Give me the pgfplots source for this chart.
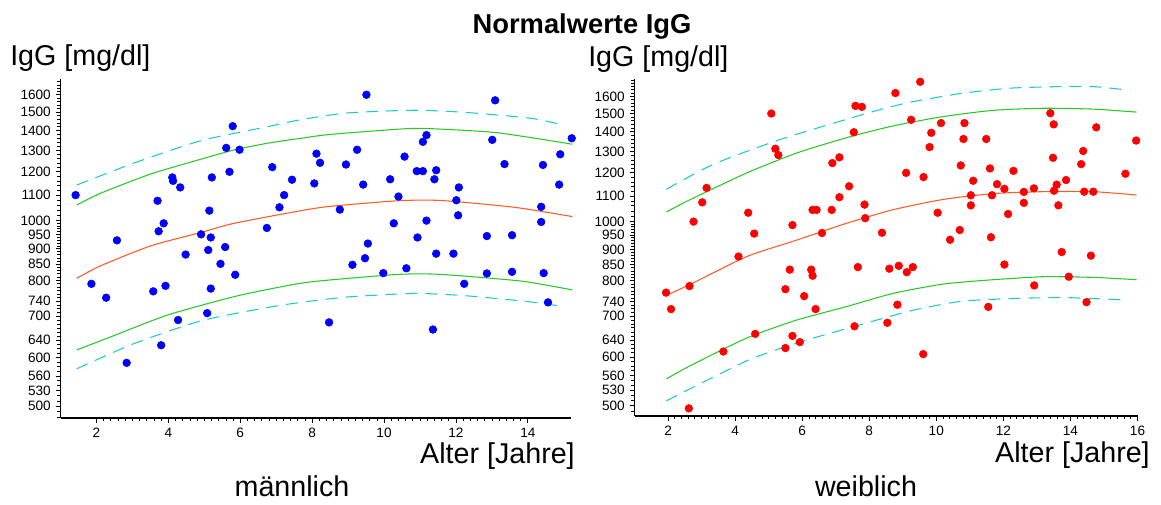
\documentclass[border=0pt]{standalone}
\usepackage{pgfplots}
\pgfplotsset{compat=1.18}
\usepackage{fontspec}
\setmainfont{Liberation Sans}
\definecolor{medc}{RGB}{255,90,40}
\definecolor{grnc}{RGB}{40,200,40}
\definecolor{cyc}{RGB}{30,200,210}
\definecolor{ptb}{RGB}{0,0,255}
\definecolor{ptr}{RGB}{255,0,0}

\pgfplotsset{
 igg/.style={
  scale only axis, anchor=south west,
  axis x line*=bottom, axis y line*=left,
  axis line style={-, black, line width=0.8pt},
  tick align=outside,
  major tick length=3.75pt, minor tick length=2.4pt,
  every tick/.style={black, line width=0.55pt},
  ytick={500,530,560,600,640,700,740,800,850,900,950,1000,1100,1200,1300,1400,1500,1600},
  yticklabels={500,530,560,600,640,700,740,800,850,900,950,1000,1100,1200,1300,1400,1500,1600},
  minor ytick={480,490,500,510,520,530,540,550,560,570,580,590,600,610,620,630,640,650,660,670,680,690,700,710,720,730,740,750,760,770,780,790,800,810,820,830,840,850,860,870,880,890,900,910,920,930,940,950,960,970,980,990,1000,1020,1040,1060,1080,1100,1120,1140,1160,1180,1200,1220,1240,1260,1280,1300,1320,1340,1360,1380,1400,1420,1440,1460,1480,1500,1520,1540,1560,1580,1600,1620,1640,1660,1680,1700},
  minor x tick num=9,
  tick label style={font=\fontsize{10.2}{12}\selectfont},
  clip=false,
 },
 med/.style={medc, line width=0.8pt, smooth, tension=0.4, no marks},
 pc/.style={grnc, line width=0.8pt, smooth, tension=0.4, no marks},
 pd/.style={cyc, line width=0.8pt, smooth, tension=0.4, no marks, dash pattern=on 9pt off 6pt},
 ptsm/.style={only marks, mark=*, mark size=2.9pt, mark options={draw=ptb, fill=ptb}},
 ptsf/.style={only marks, mark=*, mark size=2.9pt, mark options={draw=ptr, fill=ptr}},
}

\pgfplotstableread{
x y
1.42 1100
1.86 790
2.27 750
2.57 929
2.84 588
3.58 768
3.70 1077
3.73 961
3.80 628
3.87 990
3.92 784
4.11 1175
4.13 1160
4.27 690
4.33 1132
4.48 881
4.91 950
5.08 708
5.11 896
5.14 1038
5.18 939
5.18 776
5.21 1175
5.45 851
5.58 906
5.61 1312
5.70 1200
5.79 1423
5.86 817
5.98 1303
6.74 973
6.89 1221
7.09 1051
7.22 1100
7.44 1165
8.06 1149
8.12 1284
8.22 1241
8.47 684
8.77 1042
8.94 1233
9.12 848
9.25 1303
9.42 1144
9.47 869
9.51 1600
9.55 918
9.98 822
10.17 1167
10.27 990
10.40 1094
10.57 1270
10.62 837
10.91 1203
10.93 939
11.08 1203
11.08 1342
11.18 1376
11.18 1000
11.36 666
11.40 1167
11.45 1207
11.45 884
11.93 884
12.01 1079
12.06 1020
12.08 1132
12.23 790
12.86 944
12.86 821
13.01 1352
13.09 1567
13.35 1235
13.56 947
13.56 826
14.37 1053
14.37 995
14.42 1231
14.44 822
14.56 737
14.87 1144
14.90 1281
15.22 1360
}\malepts

\pgfplotstableread{
x y
1.94 765
2.09 719
2.62 495
2.64 784
2.76 999
3.02 1074
3.15 1134
3.65 613
4.10 876
4.39 1033
4.57 955
4.60 655
5.08 1500
5.20 1314
5.29 1283
5.50 775
5.50 621
5.63 834
5.71 986
5.71 650
5.93 635
6.06 755
6.27 834
6.31 815
6.31 1044
6.43 1044
6.40 719
6.59 957
6.88 1044
6.90 1245
7.11 1095
7.11 1272
7.40 1141
7.54 1398
7.56 674
7.59 1544
7.66 842
7.78 1538
7.86 1065
7.88 1012
8.38 958
8.54 683
8.60 837
8.78 1620
8.84 731
8.88 846
9.10 1200
9.12 826
9.25 1465
9.30 842
9.52 1690
9.61 607
9.62 1181
9.80 1322
9.85 1395
10.04 1033
10.14 1447
10.41 933
10.70 968
10.73 1234
10.81 1363
10.84 1447
11.03 1103
11.03 1062
11.10 1165
11.49 1363
11.55 725
11.60 1220
11.63 942
11.66 1103
11.81 1150
12.03 1130
12.03 850
12.14 1028
12.30 1209
12.61 1117
12.61 1072
12.91 1132
12.92 786
13.40 1502
13.48 1270
13.50 1440
13.51 1122
13.59 1148
13.64 1062
13.74 891
13.87 1168
13.95 812
14.32 1240
14.38 1303
14.41 1118
14.48 738
14.61 879
14.68 1118
14.77 1424
15.64 1196
15.96 1355
}\femalepts

\begin{document}
\begin{tikzpicture}
\path[use as bounding box] (0pt,0pt) rectangle (870.75pt,-378pt);

% ---------- male ----------
\begin{axis}[ymode=log, igg,
  at={(45.375pt,-313.5pt)},
  width=382.875pt, height=254.25pt,
  xmin=1, xmax=15.2, ymin=478.6, ymax=1697,
  xtick={2,4,...,14}, xticklabels={2,4,6,8,10,12,14},
]
\addplot[pd] coordinates {(1.45,1142) (3.05,1240) (4.91,1348) (6.76,1420) (7.69,1458) (8.99,1495) (10.85,1510) (12.33,1497) (14.10,1465) (14.96,1430)};
\addplot[pc] coordinates {(1.45,1060) (2.12,1108) (3.51,1190) (4.91,1258) (5.83,1302) (6.76,1335) (7.69,1360) (8.52,1380) (10.66,1410) (11.50,1408) (13.17,1388) (15.24,1330)};
\addplot[med] coordinates {(1.45,806) (2.12,845) (3.51,910) (4.91,957) (5.83,990) (7.69,1038) (8.52,1055) (10.38,1077) (11.59,1078) (13.63,1051) (15.24,1015)};
\addplot[pc] coordinates {(1.45,617) (2.31,645) (3.98,703) (5.83,753) (7.13,781) (8.06,797) (10.38,818) (11.59,818) (13.82,798) (15.24,772)};
\addplot[pd] coordinates {(1.45,575) (3.05,632) (4.91,688) (6.76,723) (7.69,737) (8.99,752) (10.85,762) (12.33,755) (14.10,738) (14.96,726)};
\addplot[ptsm] table[x=x,y=y] {\malepts};
\end{axis}

% ---------- female ----------
\begin{axis}[ymode=log, igg,
  at={(475.875pt,-312pt)},
  width=377.25pt, height=252.75pt,
  xmin=1, xmax=16, ymin=481, ymax=1708,
  xtick={2,4,...,16}, xticklabels={2,4,6,8,10,12,14,16},
]
\addplot[pd] coordinates {(1.95,1128) (3.36,1240) (5.34,1360) (7.33,1468) (8.32,1522) (9.22,1565) (10.71,1617) (12.20,1650) (13.69,1660) (14.68,1660) (15.64,1640)};
\addplot[pc] coordinates {(1.95,1036) (2.66,1085) (4.35,1200) (5.84,1293) (7.33,1370) (8.72,1432) (10.21,1483) (11.70,1518) (13.19,1530) (14.68,1525) (15.97,1508)};
\addplot[med] coordinates {(1.95,757) (2.66,789) (4.35,876) (5.84,932) (7.33,993) (8.72,1045) (10.21,1086) (11.70,1110) (13.19,1118) (14.68,1118) (15.97,1104)};
\addplot[pc] coordinates {(1.95,553) (2.66,581) (4.35,645) (5.84,690) (7.33,726) (8.72,763) (10.21,790) (11.70,803) (13.19,812) (14.68,810) (15.97,803)};
\addplot[pd] coordinates {(1.95,509) (2.66,533) (4.35,592) (5.34,620) (6.34,645) (7.33,668) (9.22,714) (10.71,740) (12.20,748) (13.69,751) (14.68,748) (15.64,744)};
\addplot[ptsf] table[x=x,y=y] {\femalepts};
\end{axis}

% ---------- texts ----------
\node[anchor=base, font=\fontsize{20.5}{24}\selectfont\bfseries] at (436.5pt,-24.75pt) {Normalwerte IgG};
\node[anchor=base west, inner sep=0pt, font=\fontsize{21.5}{25}\selectfont] at (7.5pt,-48.75pt) {IgG [mg/dl]};
\node[anchor=base west, inner sep=0pt, font=\fontsize{21.5}{25}\selectfont] at (441pt,-49.5pt) {IgG [mg/dl]};
\node[anchor=base east, inner sep=0pt, font=\fontsize{21.5}{25}\selectfont] at (431.25pt,-347.25pt) {Alter [Jahre]};
\node[anchor=base east, inner sep=0pt, font=\fontsize{21.5}{25}\selectfont] at (862.5pt,-346.5pt) {Alter [Jahre]};
\node[anchor=base, inner sep=0pt, font=\fontsize{21.5}{25}\selectfont] at (219pt,-372pt) {männlich};
\node[anchor=base, inner sep=0pt, font=\fontsize{21.5}{25}\selectfont] at (649.5pt,-372pt) {weiblich};
\end{tikzpicture}
\end{document}
